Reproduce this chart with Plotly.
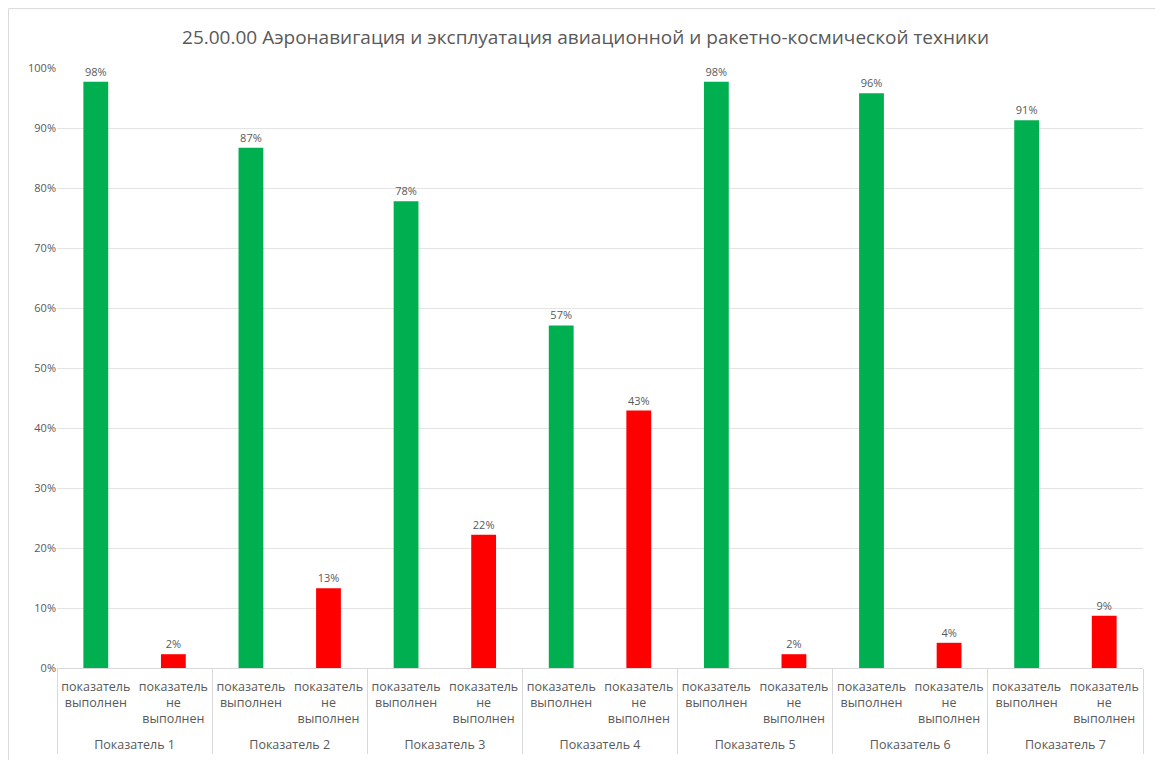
import plotly.graph_objects as go

groups = ["Показатель 1", "Показатель 2", "Показатель 3", "Показатель 4",
          "Показатель 5", "Показатель 6", "Показатель 7"]
label_done = "показатель<br>выполнен"
label_not = "показатель<br>не<br>выполнен<br>\u00a0"
done = [0.977, 0.867, 0.778, 0.571, 0.977, 0.958, 0.913]
not_done = [0.023, 0.133, 0.222, 0.429, 0.023, 0.042, 0.087]
title = "25.00.00 Аэронавигация и эксплуатация авиационной и ракетно-космической техники"

GREEN = "#00B050"
RED = "#FF0000"
TXT = "#595959"
FONT = "Open Sans"

fig = go.Figure()
for vals, lab, col in ((done, label_done, GREEN), (not_done, label_not, RED)):
    fig.add_trace(go.Bar(
        x=[groups, [lab] * len(groups)], y=vals,
        marker=dict(color=col, line=dict(width=0)),
        texttemplate="%{y:.0%}", textposition="outside",
        textfont=dict(size=11, color=TXT, family=FONT),
        cliponaxis=False, showlegend=False,
    ))

fig.update_layout(
    width=1155, height=752,
    paper_bgcolor="white", plot_bgcolor="white",
    barmode="overlay", bargap=0.68,
    margin=dict(l=49, r=20, t=60, b=92, autoexpand=False),
    title=dict(text=title, x=0.5, xanchor="center", y=0.961, yanchor="middle",
               font=dict(size=19, color=TXT, family=FONT)),
    font=dict(family=FONT, color=TXT),
    xaxis=dict(
        type="multicategory",
        showgrid=False, showline=False, zeroline=False,
        showdividers=True, dividercolor="#d9d9d9", dividerwidth=1,
        tickfont=dict(size=12.5, color=TXT, family=FONT),
        ticks="", ticklabelstandoff=9, tickangle=0,
    ),
    yaxis=dict(
        range=[0, 1], dtick=0.1, tickformat=".0%",
        showgrid=True, gridcolor="#e4e4e4", gridwidth=1,
        zeroline=True, zerolinecolor="#d9d9d9", zerolinewidth=1,
        showline=False, ticks="",
        tickfont=dict(size=11, color=TXT, family=FONT),
    ),
    shapes=[dict(type="rect", xref="paper", yref="paper",
                 x0=-0.0446, x1=1.0138, y0=-0.2, y1=1.099,
                 line=dict(color="#d9d9d9", width=1), layer="below")],
)

fig.write_html("out.html")
